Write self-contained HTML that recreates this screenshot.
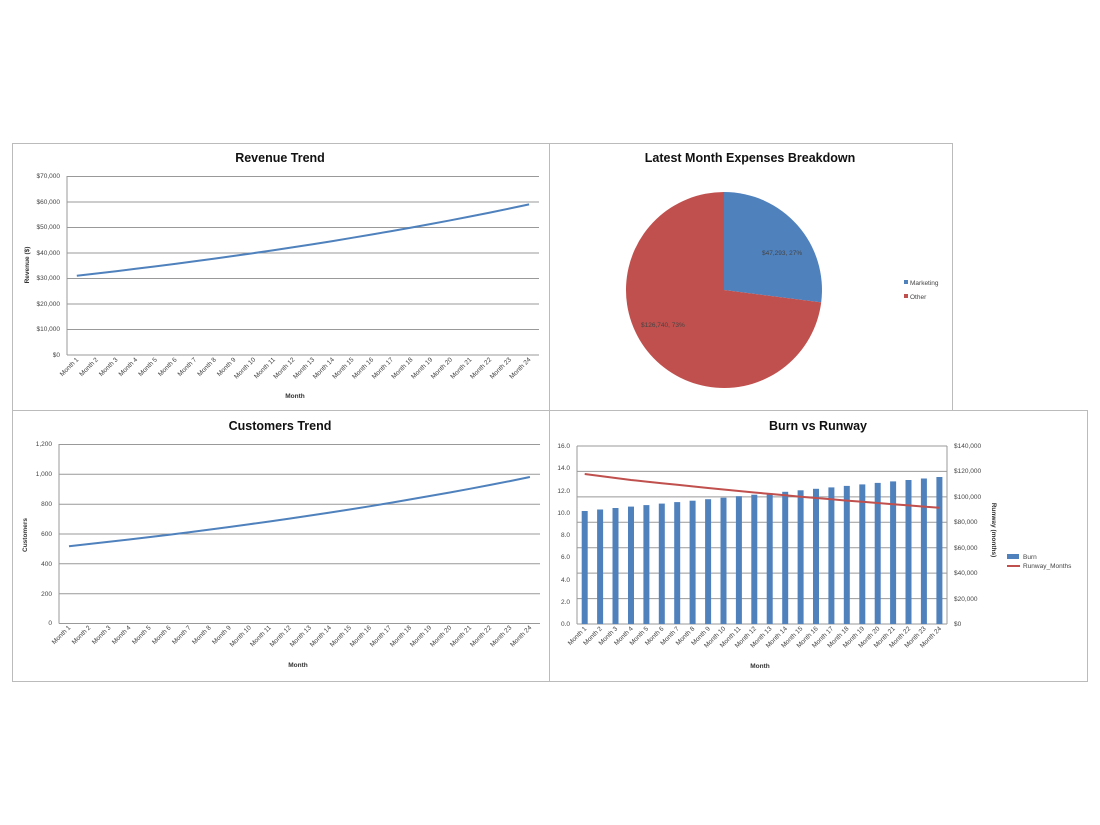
<!DOCTYPE html>
<html><head><meta charset="utf-8"><style>
html,body{margin:0;padding:0;background:#fff;}
svg{display:block;font-family:"Liberation Sans",sans-serif;}
.t{font-size:12.5px;font-weight:bold;text-anchor:middle;fill:#111}
.a{font-size:6.5px;fill:#444}
.m{font-size:6.5px;fill:#444;text-anchor:end}
.at{font-size:6.5px;font-weight:bold;fill:#333;text-anchor:middle}
.g{stroke:#999;stroke-width:1}
</style></head><body>
<svg width="1100" height="825" viewBox="0 0 1100 825">
<rect width="1100" height="825" fill="#fff"/>
<!-- frames -->
<rect x="12.5" y="143.5" width="537" height="267" fill="#fff" stroke="#bbb"/>
<rect x="549.5" y="143.5" width="403" height="267" fill="#fff" stroke="#bbb"/>
<rect x="12.5" y="410.5" width="537" height="271" fill="#fff" stroke="#bbb"/>
<rect x="549.5" y="410.5" width="538" height="271" fill="#fff" stroke="#bbb"/>

<!-- Revenue -->
<text class="t" x="280" y="162">Revenue Trend</text>
<g class="g">
<line x1="67" y1="176.5" x2="539" y2="176.5"/><line x1="67" y1="202" x2="539" y2="202"/><line x1="67" y1="227.5" x2="539" y2="227.5"/><line x1="67" y1="253" x2="539" y2="253"/><line x1="67" y1="278.5" x2="539" y2="278.5"/><line x1="67" y1="304" x2="539" y2="304"/><line x1="67" y1="329.5" x2="539" y2="329.5"/><line x1="67" y1="355" x2="539" y2="355"/><line x1="67" y1="176" x2="67" y2="355"/>
</g>
<g class="a" text-anchor="end">
<text x="60" y="178">$70,000</text><text x="60" y="204">$60,000</text><text x="60" y="229">$50,000</text><text x="60" y="255">$40,000</text><text x="60" y="280">$30,000</text><text x="60" y="306">$20,000</text><text x="60" y="331">$10,000</text><text x="60" y="357">$0</text>
</g>
<text class="at" transform="translate(29,265) rotate(-90)">Revenue ($)</text>
<text class="at" x="295" y="398">Month</text>
<polyline fill="none" stroke="#4f81bd" stroke-width="2" points="76.8,275.7 96.5,273.5 116.1,271.2 135.8,268.8 155.5,266.4 175.2,263.9 194.8,261.3 214.5,258.6 234.1,255.9 253.8,253.1 273.5,250.2 293.1,247.3 312.8,244.2 332.5,241.1 352.1,237.8 371.8,234.5 391.5,231.1 411.1,227.6 430.8,224 450.5,220.3 470.1,216.5 489.8,212.6 509.5,208.5 529.1,204.4"/>
<g class="m">
<text transform="translate(79,360) rotate(-45)">Month 1</text><text transform="translate(98.5,360) rotate(-45)">Month 2</text><text transform="translate(118.1,360) rotate(-45)">Month 3</text><text transform="translate(137.8,360) rotate(-45)">Month 4</text><text transform="translate(157.5,360) rotate(-45)">Month 5</text><text transform="translate(177.2,360) rotate(-45)">Month 6</text><text transform="translate(196.8,360) rotate(-45)">Month 7</text><text transform="translate(216.5,360) rotate(-45)">Month 8</text><text transform="translate(236.1,360) rotate(-45)">Month 9</text><text transform="translate(255.8,360) rotate(-45)">Month 10</text><text transform="translate(275.5,360) rotate(-45)">Month 11</text><text transform="translate(295.1,360) rotate(-45)">Month 12</text><text transform="translate(314.8,360) rotate(-45)">Month 13</text><text transform="translate(334.5,360) rotate(-45)">Month 14</text><text transform="translate(354.1,360) rotate(-45)">Month 15</text><text transform="translate(373.8,360) rotate(-45)">Month 16</text><text transform="translate(393.5,360) rotate(-45)">Month 17</text><text transform="translate(413.1,360) rotate(-45)">Month 18</text><text transform="translate(432.8,360) rotate(-45)">Month 19</text><text transform="translate(452.5,360) rotate(-45)">Month 20</text><text transform="translate(472.1,360) rotate(-45)">Month 21</text><text transform="translate(491.8,360) rotate(-45)">Month 22</text><text transform="translate(511.5,360) rotate(-45)">Month 23</text><text transform="translate(531.1,360) rotate(-45)">Month 24</text>
</g>

<!-- Pie -->
<text class="t" x="750" y="162">Latest Month Expenses Breakdown</text>
<path d="M724,290 L724,192 A98,98 0 0 1 821.2,302.4 Z" fill="#4f81bd"/>
<path d="M724,290 L821.2,302.4 A98,98 0 1 1 724,192 Z" fill="#c0504d"/>
<text class="a" x="762" y="255" fill="#222">$47,293, 27%</text>
<text class="a" x="641" y="327" fill="#222">$126,740, 73%</text>
<rect x="904" y="280" width="4" height="4" fill="#4f81bd"/>
<text class="a" x="910" y="285">Marketing</text>
<rect x="904" y="294" width="4" height="4" fill="#c0504d"/>
<text class="a" x="910" y="299">Other</text>

<!-- Customers -->
<text class="t" x="280" y="430">Customers Trend</text>
<g class="g">
<line x1="59" y1="444.5" x2="540" y2="444.5"/><line x1="59" y1="474.3" x2="540" y2="474.3"/><line x1="59" y1="504.2" x2="540" y2="504.2"/><line x1="59" y1="534" x2="540" y2="534"/><line x1="59" y1="563.8" x2="540" y2="563.8"/><line x1="59" y1="593.7" x2="540" y2="593.7"/><line x1="59" y1="623.5" x2="540" y2="623.5"/><line x1="59" y1="444" x2="59" y2="623.5"/>
</g>
<g class="a" text-anchor="end">
<text x="52" y="446">1,200</text><text x="52" y="476">1,000</text><text x="52" y="506">800</text><text x="52" y="536">600</text><text x="52" y="566">400</text><text x="52" y="596">200</text><text x="52" y="625">0</text>
</g>
<text class="at" transform="translate(27,535) rotate(-90)">Customers</text>
<text class="at" x="298" y="667">Month</text>
<polyline fill="none" stroke="#4f81bd" stroke-width="2" points="69,546.2 89,544 109.1,541.8 129.1,539.5 149.2,537.1 169.2,534.7 189.2,532.2 209.3,529.6 229.3,527 249.4,524.2 269.4,521.5 289.4,518.6 309.5,515.6 329.5,512.6 349.6,509.5 369.6,506.3 389.6,503 409.7,499.5 429.7,496 449.8,492.5 469.8,488.8 489.8,485 509.9,481.1 529.9,477"/>
<g class="m">
<text transform="translate(71,628) rotate(-45)">Month 1</text><text transform="translate(91,628) rotate(-45)">Month 2</text><text transform="translate(111.1,628) rotate(-45)">Month 3</text><text transform="translate(131.1,628) rotate(-45)">Month 4</text><text transform="translate(151.2,628) rotate(-45)">Month 5</text><text transform="translate(171.2,628) rotate(-45)">Month 6</text><text transform="translate(191.2,628) rotate(-45)">Month 7</text><text transform="translate(211.3,628) rotate(-45)">Month 8</text><text transform="translate(231.3,628) rotate(-45)">Month 9</text><text transform="translate(251.4,628) rotate(-45)">Month 10</text><text transform="translate(271.4,628) rotate(-45)">Month 11</text><text transform="translate(291.4,628) rotate(-45)">Month 12</text><text transform="translate(311.5,628) rotate(-45)">Month 13</text><text transform="translate(331.5,628) rotate(-45)">Month 14</text><text transform="translate(351.6,628) rotate(-45)">Month 15</text><text transform="translate(371.6,628) rotate(-45)">Month 16</text><text transform="translate(391.6,628) rotate(-45)">Month 17</text><text transform="translate(411.7,628) rotate(-45)">Month 18</text><text transform="translate(431.7,628) rotate(-45)">Month 19</text><text transform="translate(451.8,628) rotate(-45)">Month 20</text><text transform="translate(471.8,628) rotate(-45)">Month 21</text><text transform="translate(491.8,628) rotate(-45)">Month 22</text><text transform="translate(511.9,628) rotate(-45)">Month 23</text><text transform="translate(531.9,628) rotate(-45)">Month 24</text>
</g>

<!-- Burn vs Runway -->
<text class="t" x="818" y="430">Burn vs Runway</text>
<g class="g">
<line x1="577" y1="446" x2="947" y2="446"/><line x1="577" y1="471.4" x2="947" y2="471.4"/><line x1="577" y1="496.9" x2="947" y2="496.9"/><line x1="577" y1="522.3" x2="947" y2="522.3"/><line x1="577" y1="547.7" x2="947" y2="547.7"/><line x1="577" y1="573.1" x2="947" y2="573.1"/><line x1="577" y1="598.6" x2="947" y2="598.6"/><line x1="577" y1="624" x2="947" y2="624"/>
<line x1="577" y1="446" x2="577" y2="624"/><line x1="947" y1="446" x2="947" y2="624"/>
</g>
<g class="a" text-anchor="end">
<text x="570" y="448">16.0</text><text x="570" y="470">14.0</text><text x="570" y="493">12.0</text><text x="570" y="515">10.0</text><text x="570" y="537">8.0</text><text x="570" y="559">6.0</text><text x="570" y="582">4.0</text><text x="570" y="604">2.0</text><text x="570" y="626">0.0</text>
</g>
<g class="a">
<text x="954" y="448">$140,000</text><text x="954" y="473">$120,000</text><text x="954" y="499">$100,000</text><text x="954" y="524">$80,000</text><text x="954" y="550">$60,000</text><text x="954" y="575">$40,000</text><text x="954" y="601">$20,000</text><text x="954" y="626">$0</text>
</g>
<text class="at" transform="translate(992,530) rotate(90)">Runway (months)</text>
<text class="at" x="760" y="668">Month</text>
<g fill="#4f81bd">
<rect x="581.7" y="511" width="6" height="113"/><rect x="597.1" y="509.5" width="6" height="114.5"/><rect x="612.5" y="508" width="6" height="116"/><rect x="628" y="506.6" width="6" height="117.4"/><rect x="643.4" y="505.1" width="6" height="118.9"/><rect x="658.8" y="503.6" width="6" height="120.4"/><rect x="674.2" y="502.1" width="6" height="121.9"/><rect x="689.6" y="500.7" width="6" height="123.3"/><rect x="705.1" y="499.2" width="6" height="124.8"/><rect x="720.5" y="497.7" width="6" height="126.3"/><rect x="735.9" y="496.2" width="6" height="127.8"/><rect x="751.3" y="494.7" width="6" height="129.3"/><rect x="766.7" y="493.3" width="6" height="130.7"/><rect x="782.2" y="491.8" width="6" height="132.2"/><rect x="797.6" y="490.3" width="6" height="133.7"/><rect x="813" y="488.8" width="6" height="135.2"/><rect x="828.4" y="487.4" width="6" height="136.6"/><rect x="843.8" y="485.9" width="6" height="138.1"/><rect x="859.3" y="484.4" width="6" height="139.6"/><rect x="874.7" y="482.9" width="6" height="141.1"/><rect x="890.1" y="481.4" width="6" height="142.6"/><rect x="905.5" y="480" width="6" height="144"/><rect x="920.9" y="478.5" width="6" height="145.5"/><rect x="936.4" y="477" width="6" height="147"/>
</g>
<polyline fill="none" stroke="#c0504d" stroke-width="2" points="584.7,474 600.1,476 615.5,478 631,480 646.4,481.6 661.8,483.2 677.2,484.8 692.6,486.4 708.1,488 723.5,489.5 738.9,491 754.3,492.5 769.7,493.9 785.2,495.3 800.6,496.7 816,498 831.4,499.3 846.8,500.6 862.3,501.8 877.7,503 893.1,504.2 908.5,505.4 923.9,506.6 939.4,507.8"/>
<g class="m">
<text transform="translate(587,629) rotate(-45)">Month 1</text><text transform="translate(602.4,629) rotate(-45)">Month 2</text><text transform="translate(617.8,629) rotate(-45)">Month 3</text><text transform="translate(633.3,629) rotate(-45)">Month 4</text><text transform="translate(648.7,629) rotate(-45)">Month 5</text><text transform="translate(664.1,629) rotate(-45)">Month 6</text><text transform="translate(679.5,629) rotate(-45)">Month 7</text><text transform="translate(694.9,629) rotate(-45)">Month 8</text><text transform="translate(710.4,629) rotate(-45)">Month 9</text><text transform="translate(725.8,629) rotate(-45)">Month 10</text><text transform="translate(741.2,629) rotate(-45)">Month 11</text><text transform="translate(756.6,629) rotate(-45)">Month 12</text><text transform="translate(772,629) rotate(-45)">Month 13</text><text transform="translate(787.5,629) rotate(-45)">Month 14</text><text transform="translate(802.9,629) rotate(-45)">Month 15</text><text transform="translate(818.3,629) rotate(-45)">Month 16</text><text transform="translate(833.7,629) rotate(-45)">Month 17</text><text transform="translate(849.1,629) rotate(-45)">Month 18</text><text transform="translate(864.6,629) rotate(-45)">Month 19</text><text transform="translate(880,629) rotate(-45)">Month 20</text><text transform="translate(895.4,629) rotate(-45)">Month 21</text><text transform="translate(910.8,629) rotate(-45)">Month 22</text><text transform="translate(926.2,629) rotate(-45)">Month 23</text><text transform="translate(941.7,629) rotate(-45)">Month 24</text>
</g>
<rect x="1007" y="554" width="12" height="5" fill="#4f81bd"/>
<text class="a" x="1023" y="559">Burn</text>
<line x1="1007" y1="566" x2="1020" y2="566" stroke="#c0504d" stroke-width="2"/>
<text class="a" x="1023" y="568">Runway_Months</text>
</svg>
</body></html>
